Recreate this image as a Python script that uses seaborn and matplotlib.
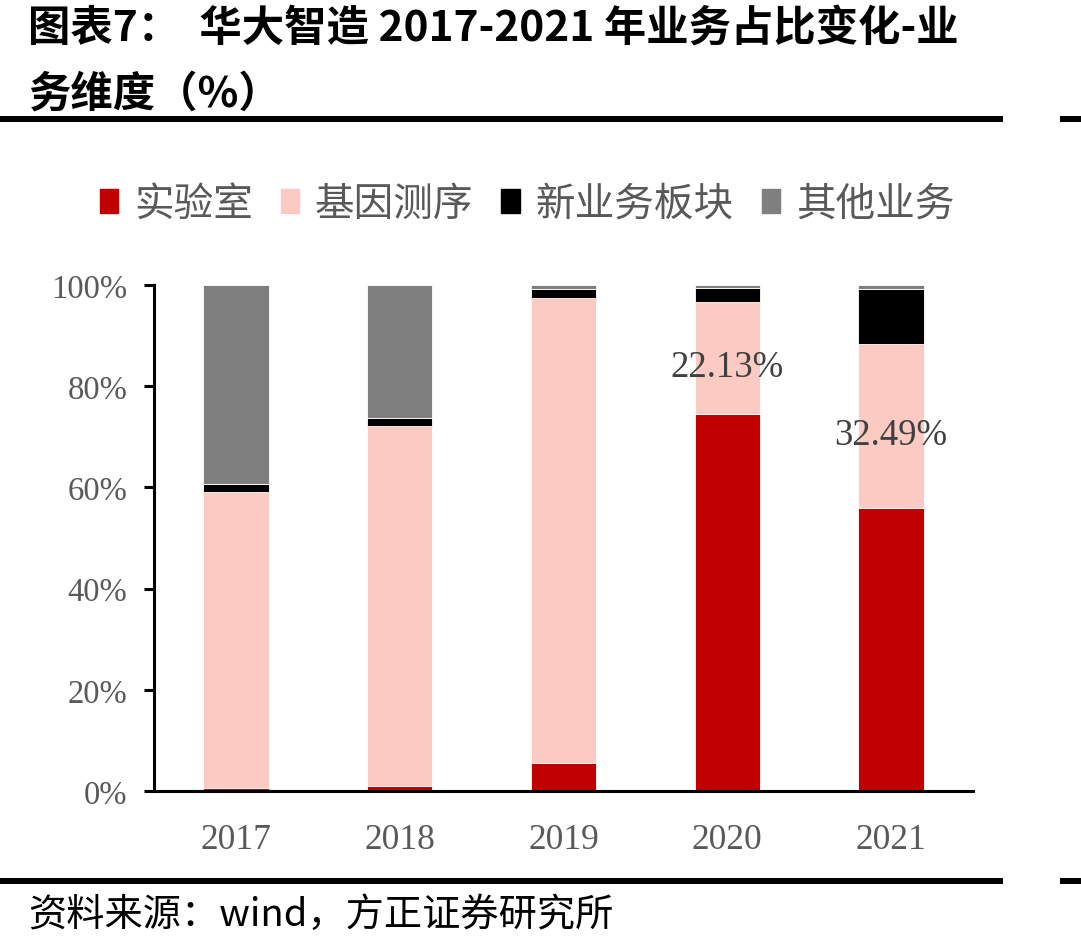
import matplotlib
matplotlib.use("Agg")
import matplotlib.pyplot as plt
import seaborn as sns
import numpy as np
import pandas as pd
from matplotlib.patches import Patch
from matplotlib.lines import Line2D

# ---- data ----
years = ["2017", "2018", "2019", "2020", "2021"]
lab = [0.6, 1.0, 5.5, 74.5, 55.9]
gene = [58.5, 71.1, 91.9, 22.13, 32.49]
new_biz = [1.6, 1.6, 1.9, 2.8, 10.9]
other = [39.3, 26.3, 0.7, 0.6, 0.7]
series_names = ["实验室", "基因测序", "新业务板块", "其他业务"]
series_colors = ["#C00000", "#FBCAC2", "#000000", "#7F7F7F"]
label_years = ["2020", "2021"]
label_texts = ["22.13%", "32.49%"]
y_ticks = [0, 20, 40, 60, 80, 100]
y_tick_labels = ["0%", "20%", "40%", "60%", "80%", "100%"]

title_line1 = "图表7：  华大智造 2017-2021 年业务占比变化-业"
title_line2 = "务维度（%）"
footer = "资料来源：wind，方正证券研究所"

sns.set_theme(style="white")
plt.rcParams["font.family"] = ["Noto Sans CJK SC", "DejaVu Sans"]

W, H = 1081, 953
fig = plt.figure(figsize=(W / 100, H / 100), dpi=100)
ax = fig.add_axes([154 / W, 1 - 792 / H, (973 - 154) / W, (792 - 286) / H])

df = pd.DataFrame({"year": years, "lab": lab, "gene": gene, "new": new_biz, "other": other})
cols = ["lab", "gene", "new", "other"]
bottom = np.zeros(len(years))
for col, name, color in zip(cols, series_names, series_colors):
    sns.barplot(data=df, x="year", y=col, bottom=bottom, color=color, width=0.4,
                ax=ax, edgecolor="white", linewidth=0.6, saturation=1)
    bottom = bottom + df[col].to_numpy()

# data labels at centre of the gene segment
for yr, txt in zip(label_years, label_texts):
    i = years.index(yr)
    yc = lab[i] + gene[i] / 2
    ax.annotate(txt, xy=(i, yc), xytext=(0, -6), textcoords="offset points",
                ha="center", va="center", fontsize=26.5,
                family="Liberation Serif", color="#404040")

ax.set_xlim(-0.5, len(years) - 0.5)
ax.set_ylim(0, 100)
ax.set_yticks(y_ticks)
ax.set_yticklabels(y_tick_labels)
ax.set_xlabel("")
ax.set_ylabel("")
for s in ["top", "right"]:
    ax.spines[s].set_visible(False)
for s in ["left", "bottom"]:
    ax.spines[s].set_visible(True)
    ax.spines[s].set_color("black")
    ax.spines[s].set_linewidth(2.2)
ax.tick_params(axis="y", which="both", left=True, length=7, width=2.2, pad=12,
               labelsize=23.5, labelcolor="#595959", color="black")
ax.tick_params(axis="x", which="both", bottom=False, length=0, pad=23,
               labelsize=25.5, labelcolor="#595959")
for lbl in ax.get_xticklabels() + ax.get_yticklabels():
    lbl.set_family("Liberation Serif")
ax.grid(False)

# legend
handles = [Patch(facecolor=c, edgecolor=c) for c in series_colors]
fig.legend(handles, series_names, loc="center", bbox_to_anchor=(527 / W, 1 - 205 / H),
           ncol=4, frameon=False, fontsize=28.5, handlelength=0.47, handleheight=0.55,
           handletextpad=0.4, columnspacing=0.7, labelcolor="#595959")

# title
fig.text(28 / W, 1 - 30 / H, title_line1, fontsize=30.5, fontweight="bold",
         ha="left", va="center", color="black")
fig.text(28 / W, 1 - 95 / H, title_line2, fontsize=30.5, fontweight="bold",
         ha="left", va="center", color="black")

# rules
for yy in [119.7, 882]:
    fig.add_artist(Line2D([0, 1003 / W], [1 - yy / H, 1 - yy / H], color="black",
                          linewidth=4.3, transform=fig.transFigure, solid_capstyle="butt"))
    fig.add_artist(Line2D([1060 / W, 1], [1 - yy / H, 1 - yy / H], color="black",
                          linewidth=4.3, transform=fig.transFigure, solid_capstyle="butt"))

# footer
fig.text(28 / W, 1 - 915 / H, footer, fontsize=27.5, ha="left", va="center",
         color="black", style="italic")

fig.savefig("out.png", dpi=100)
